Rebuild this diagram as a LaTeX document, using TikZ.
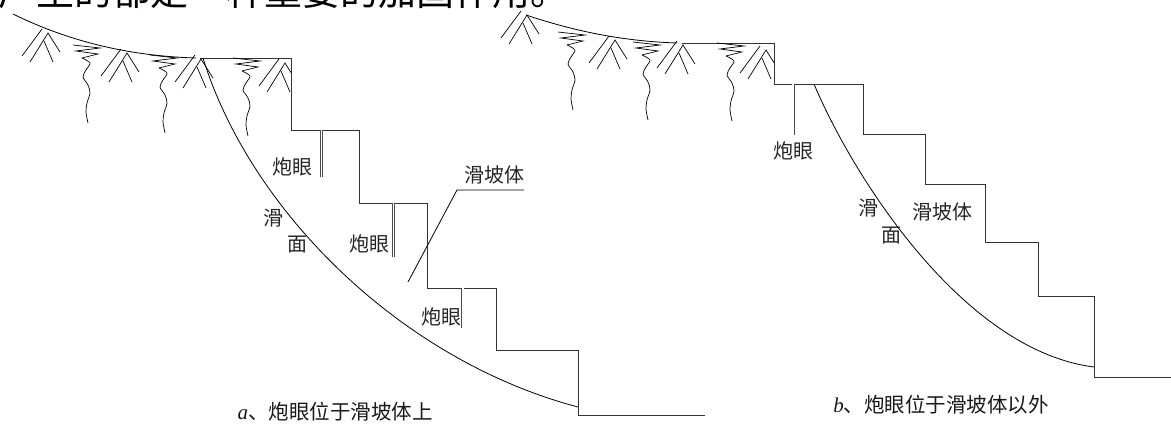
\documentclass[tikz,border=0pt]{standalone}
\usepackage{fontspec}
\newfontfamily\cjk{Noto Sans CJK SC}
\newfontfamily\latinserif{Liberation Serif}
\begin{document}
\begin{tikzpicture}[x=1pt,y=-1pt,
  plant/.style={draw=black, line width=0.7pt},
  ground/.style={draw=black, line width=0.8pt},
  stepline/.style={draw=black!80, line width=1pt},
  slip/.style={draw=black, line width=0.8pt},
  hole/.style={draw=black!70, double=white, double distance=1.5pt, line width=0.75pt},
  lbl/.style={font=\cjk\fontsize{20}{20}\selectfont, inner sep=0pt, text=black!85},
  captext/.style={font=\cjk\fontsize{20.5}{20.5}\selectfont, inner sep=0pt, text=black!90},
  grass/.pic={
    \draw[plant] (-26,23) -- (-6,-4);
    \draw[plant] (-18,29) -- (0,0) -- (12,19);
    \draw[plant] (-4,8) -- (5,29);
  },
  root/.pic={
    \draw[plant] (0,0) -- (27,3) -- (3,6) -- (25,9) -- (9,13);
    \draw[plant] plot[smooth] coordinates {(9,13) (17,18) (13,25) (10,32) (15,40) (17,48) (14,58) (13,67) (15,78)};
  }]
\path[use as bounding box] (0,0) rectangle (1171,424);

% running text of the page above the figure
\node[anchor=base west, font=\cjk\fontsize{38}{38}\selectfont, inner sep=0pt] (pagetext) at (-2,5) {产生的都是一种重要的加固作用。};

% ---------------- (a) left slope ----------------
\draw[ground] (13,14) .. controls (70,42) and (130,56) .. (196,58);
\draw[stepline] (200,58) -- (291,58) -- (291,130) -- (359,130) -- (359,203)
  -- (427,203) -- (427,288) -- (496,288) -- (496,350) -- (578,350)
  -- (578,415) -- (705,415);
\pic at (48,33) {grass};
\pic at (127,53) {grass};
\pic at (201,59) {grass};
\begin{scope}
  \clip (0,0) rectangle (291,424);
  \pic at (285,63) {grass};
\end{scope}
\pic at (73,45) {root};
\pic at (150,55) {root};
\pic at (233,58) {root};
% sliding surface
\draw[slip] (203,58) .. controls (250,210) and (400,360) .. (578,407);
% blast holes
\draw[hole] (321.5,130) -- (321.5,177);
\draw[hole] (393.7,203) -- (393.7,257);
\draw[hole] (462.8,288) -- (462.8,328);
\node[lbl] (ha1) at (292,167) {炮眼};
\node[lbl] (ha2) at (369,244) {炮眼};
\node[lbl] (ha3) at (441,317) {炮眼};
\node[lbl] (sa1) at (273,218) {滑};
\node[lbl] (sa2) at (297,245) {面};
\node[lbl] (massa) at (494,175) {滑坡体};
\coordinate (tipa) at (408,282);
\coordinate (kneea) at (457,190);
\draw[slip] (tipa) -- (kneea) -- (kneea -| massa.east);
\node[captext] (capa) at (335,411.5) {{\latinserif\itshape\fontsize{21}{21}\selectfont a}、炮眼位于滑坡体上};

% ---------------- (b) right slope ----------------
\draw[ground] (526,15) .. controls (565,28) and (615,41) .. (677,43);
\draw[stepline] (682,43) -- (774,43) -- (774,84) -- (863,84) -- (863,134)
  -- (925,134) -- (925,184) -- (985,184) -- (985,242) -- (1038,242)
  -- (1038,296) -- (1094,296) -- (1094,377) -- (1171,377);
\pic at (527,15) {grass};
\pic at (615,40) {grass};
\pic at (683,45) {grass};
\begin{scope}
  \clip (0,0) rectangle (774,424);
  \pic at (766,50) {grass};
\end{scope}
\pic at (558,32) {root};
\pic at (633,42) {root};
\pic at (717,43) {root};
% sliding surface
\draw[slip] (814,84) .. controls (850,170) and (960,350) .. (1094,367);
% blast hole behind the slide
\draw[hole] (793,84) -- (793,135);
\node[lbl] (hb1) at (793,151) {炮眼};
\node[lbl] (sb1) at (868,208) {滑};
\node[lbl] (sb2) at (891,236) {面};
\node[lbl] (massb) at (942,212) {滑坡体};
\node[captext] (capb) at (941,405) {{\latinserif\itshape\fontsize{21}{21}\selectfont b}、炮眼位于滑坡体以外};
\end{tikzpicture}
\end{document}
